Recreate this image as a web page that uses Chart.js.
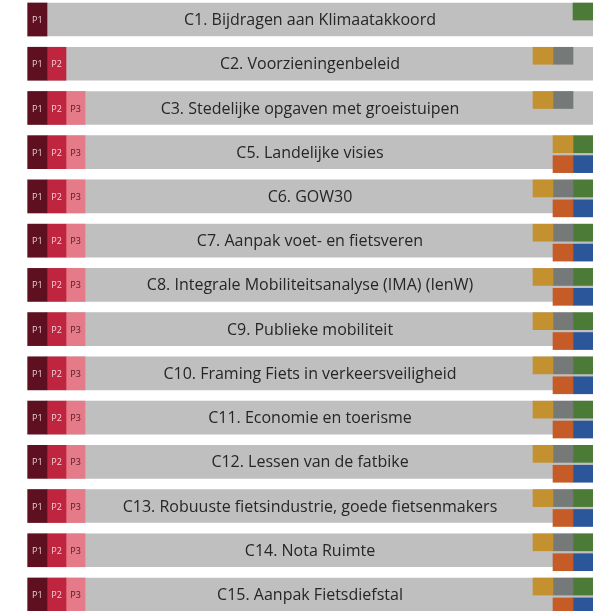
<!DOCTYPE html>
<html>
<head>
<meta charset="utf-8">
<script src="https://cdn.jsdelivr.net/npm/chart.js@4/dist/chart.umd.min.js"></script>
<style>
  html, body { margin: 0; padding: 0; background: #ffffff; }
  #wrap { position: relative; width: 604px; height: 611px; }
</style>
</head>
<body>
<div id="wrap"><canvas id="c"></canvas></div>
<script>
// ---- data ----
const categories = [
  "C1. Bijdragen aan Klimaatakkoord",
  "C2. Voorzieningenbeleid",
  "C3. Stedelijke opgaven met groeistuipen",
  "C5. Landelijke visies",
  "C6. GOW30",
  "C7. Aanpak voet- en fietsveren",
  "C8. Integrale Mobiliteitsanalyse (IMA) (IenW)",
  "C9. Publieke mobiliteit",
  "C10. Framing Fiets in verkeersveiligheid",
  "C11. Economie en toerisme",
  "C12. Lessen van de fatbike",
  "C13. Robuuste fietsindustrie, goede fietsenmakers",
  "C14. Nota Ruimte",
  "C15. Aanpak Fietsdiefstal"
];
const phaseLabels = ["P1", "P2", "P3"];
const phaseCount  = [1, 2, 3, 3, 3, 3, 3, 3, 3, 3, 3, 3, 3, 3];
// column (0,1,2) of each marker square per row, null = absent
const goldCol   = [null, 0, 0, 1, 0, 0, 0, 0, 0, 0, 0, 0, 0, 0];
const grayCol   = [null, 1, 1, null, 1, 1, 1, 1, 1, 1, 1, 1, 1, 1];
const greenCol  = [2, null, null, 2, 2, 2, 2, 2, 2, 2, 2, 2, 2, 2];
const orangeCol = [null, null, null, 1, 1, 1, 1, 1, 1, 1, 1, 1, 1, 1];
const blueCol   = [null, null, null, 2, 2, 2, 2, 2, 2, 2, 2, 2, 2, 2];

// ---- layout constants (scale units) ----
const BAR_LEN = 28.3;          // gray bar length in slot units
const PHASE_EDGES = [0.04, 1.0, 1.95, 2.9];
const SQ_START = 25.3;          // first marker column start
const TOP_OFF = -0.18, BOT_OFF = 0.27;

const phaseColors = ["#5e1020", "#c0253f", "#e57a88"];
const phaseText   = ["#e6cdd2", "#f3d3d9", "#4a1a26"];

const datasets = [];
datasets.push({
  label: "bar",
  data: categories.map((_, i) => ({ x: [0, BAR_LEN], y: i })),
  backgroundColor: "#bfbfbf",
  barThickness: 33,
  order: 10
});
phaseLabels.forEach((p, k) => {
  datasets.push({
    label: p,
    data: phaseCount.map((n, i) => n > k ? { x: [PHASE_EDGES[k], PHASE_EDGES[k + 1]], y: i } : null).filter(Boolean),
    backgroundColor: phaseColors[k],
    barThickness: 33,
    order: 5
  });
});
function squares(label, cols, color, off) {
  return {
    label,
    data: cols.map((c, i) => c === null ? null : { x: [SQ_START + c, SQ_START + c + 1], y: i + off }).filter(Boolean),
    backgroundColor: color,
    barThickness: 17,
    order: 1
  };
}
datasets.push(squares("gold", goldCol, "#c39130", TOP_OFF));
datasets.push(squares("gray", grayCol, "#757a78", TOP_OFF));
datasets.push(squares("green", greenCol, "#4b7b36", TOP_OFF));
datasets.push(squares("orange", orangeCol, "#c55c28", BOT_OFF));
datasets.push(squares("blue", blueCol, "#2b579a", BOT_OFF));

const labelPlugin = {
  id: "labels",
  afterDatasetsDraw(chart) {
    const ctx = chart.ctx;
    ctx.save();
    const barMeta = chart.getDatasetMeta(0);
    ctx.textAlign = "center";
    ctx.textBaseline = "middle";
    ctx.fillStyle = "#262626";
    ctx.font = "16px 'Open Sans'";
    barMeta.data.forEach((el, i) => {
      ctx.fillText(categories[i], (el.base + el.x) / 2, el.y + 1);
    });
    ctx.font = "9px 'Open Sans'";
    phaseLabels.forEach((p, k) => {
      const meta = chart.getDatasetMeta(1 + k);
      ctx.fillStyle = phaseText[k];
      meta.data.forEach(el => {
        ctx.fillText(p, (el.base + el.x) / 2, el.y + 1);
      });
    });
    ctx.restore();
  }
};

new Chart(document.getElementById("c"), {
  type: "bar",
  data: { datasets },
  options: {
    indexAxis: "y",
    responsive: true,
    maintainAspectRatio: false,
    animation: false,
    layout: { padding: { left: 27, right: 11, top: 0, bottom: 0 } },
    datasets: { bar: { grouped: false, borderWidth: 0 } },
    scales: {
      x: { type: "linear", min: 0, max: BAR_LEN, stacked: false, offset: false, display: false },
      y: { type: "linear", reverse: true, min: -0.441, max: 13.373, stacked: false, offset: false, display: false }
    },
    plugins: { legend: { display: false }, tooltip: { enabled: false } }
  },
  plugins: [labelPlugin]
});
</script>
</body>
</html>
